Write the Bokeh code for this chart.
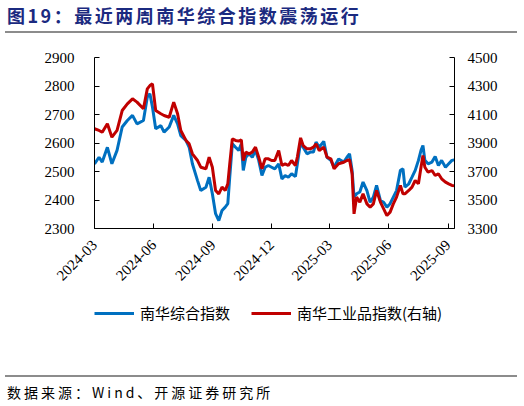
import pandas as pd
from bokeh.plotting import figure
from bokeh.layouts import column
from bokeh.models import Range1d, LinearAxis, FixedTicker, Legend, LegendItem, Div
from bokeh.embed import file_html
from bokeh.resources import INLINE

title_text = "图19：最近两周南华综合指数震荡运行"
source_text = "数据来源：Wind、开源证券研究所"
series_names = ["南华综合指数", "南华工业品指数(右轴)"]

dates = ["2024-03-01","2024-03-08","2024-03-13","2024-03-21","2024-03-28","2024-04-05",
         "2024-04-13","2024-04-21","2024-04-29","2024-05-06","2024-05-16","2024-05-22",
         "2024-05-26","2024-05-30","2024-06-04","2024-06-12","2024-06-17","2024-06-25",
         "2024-07-02","2024-07-08","2024-07-13","2024-07-21","2024-07-26","2024-07-31",
         "2024-08-08","2024-08-13","2024-08-21","2024-08-26","2024-08-31","2024-09-05",
         "2024-09-10","2024-09-15","2024-09-20","2024-09-24","2024-09-27","2024-10-01",
         "2024-10-06","2024-10-11","2024-10-15","2024-10-18","2024-10-22","2024-10-27",
         "2024-11-01","2024-11-06","2024-11-11","2024-11-16","2024-11-21","2024-11-26",
         "2024-12-01","2024-12-06","2024-12-12","2024-12-17","2024-12-22","2024-12-27",
         "2025-01-01","2025-01-07","2025-01-10","2025-01-15","2025-01-19","2025-01-25",
         "2025-01-30","2025-02-04","2025-02-08","2025-02-13","2025-02-20","2025-02-25",
         "2025-03-03","2025-03-08","2025-03-15","2025-03-23","2025-03-28","2025-04-01",
         "2025-04-05","2025-04-08","2025-04-12","2025-04-17","2025-04-22","2025-04-28",
         "2025-05-03","2025-05-08","2025-05-13","2025-05-19","2025-05-24","2025-05-29",
         "2025-06-03","2025-06-08","2025-06-13","2025-06-19","2025-06-23","2025-06-26",
         "2025-07-02","2025-07-07","2025-07-12","2025-07-17","2025-07-21","2025-07-24",
         "2025-07-27","2025-08-01","2025-08-07","2025-08-12","2025-08-17","2025-08-22",
         "2025-08-28","2025-09-02","2025-09-07","2025-09-12"]

nanhua_composite = [2527,2550,2533,2585,2527,2574,
                    2656,2679,2697,2667,2679,2761,
                    2773,2726,2650,2661,2638,2656,
                    2697,2667,2626,2609,2585,2527,
                    2468,2433,2445,2480,2422,2352,
                    2328,2363,2375,2387,2480,2597,
                    2585,2574,2597,2504,2550,2562,
                    2550,2574,2539,2486,2515,2521,
                    2515,2509,2527,2474,2486,2480,
                    2492,2482,2527,2603,2585,2562,
                    2568,2568,2603,2585,2606,2550,
                    2539,2515,2544,2533,2550,2562,
                    2504,2410,2422,2428,2463,2433,
                    2392,2410,2451,2398,2392,2375,
                    2387,2410,2433,2504,2509,2445,
                    2457,2480,2504,2539,2574,2591,
                    2539,2527,2533,2553,2521,2539,
                    2515,2527,2539,2541]

nanhua_industrial = [4000,3988,3976,4035,3941,3988,
                     4128,4175,4210,4187,4140,4280,
                     4303,4315,4128,4105,4093,4081,
                     4187,4105,3988,3918,3894,3824,
                     3777,3730,3719,3800,3730,3567,
                     3543,3590,3567,3613,3754,3929,
                     3918,3913,3922,3777,3836,3824,
                     3836,3871,3801,3719,3789,3789,
                     3777,3777,3847,3742,3754,3742,
                     3777,3742,3801,3936,3882,3859,
                     3859,3871,3894,3847,3871,3801,
                     3789,3719,3754,3765,3777,3782,
                     3684,3403,3520,3485,3543,3473,
                     3450,3473,3567,3485,3438,3391,
                     3415,3473,3520,3602,3543,3543,
                     3567,3590,3637,3614,3730,3812,
                     3730,3695,3707,3672,3684,3649,
                     3625,3613,3602,3600]

x_tick_labels = ["2024-03","2024-06","2024-09","2024-12","2025-03","2025-06","2025-09"]
left_ticks = [2300, 2400, 2500, 2600, 2700, 2800, 2900]
right_ticks = [3300, 3500, 3700, 3900, 4100, 4300, 4500]

BLUE = "#0070C0"
RED = "#C00000"
SERIF = "Liberation Serif"
CJK = "Noto Sans CJK SC"
GRAY = "#8C8C8C"

x = pd.to_datetime(dates)

W = 524
TOP_H, FIG_H, LEG_H, BOT_H = 40, 258, 72, 36

# ---- main chart ----
p = figure(width=W, height=FIG_H, x_axis_type="datetime",
           x_range=Range1d(pd.Timestamp("2024-03-01"), pd.Timestamp("2025-09-11")),
           y_range=Range1d(left_ticks[0], left_ticks[-1]),
           output_backend="svg", toolbar_location=None,
           min_border_left=94, min_border_right=70,
           min_border_top=17, min_border_bottom=70)
p.extra_y_ranges = {"right": Range1d(right_ticks[0], right_ticks[-1])}
p.outline_line_color = None
p.xgrid.grid_line_color = None
p.ygrid.grid_line_color = None
p.background_fill_color = "white"
p.border_fill_color = "white"

p.line(x, nanhua_composite, line_color=BLUE, line_width=3)
p.line(x, nanhua_industrial, line_color=RED, line_width=3, y_range_name="right")

tick_ms = [int(pd.Timestamp(t + "-01").value // 10**6) for t in x_tick_labels]
xa = p.xaxis[0]
xa.ticker = FixedTicker(ticks=tick_ms)
xa.major_label_overrides = {ms: lab for ms, lab in zip(tick_ms, x_tick_labels)}
xa.major_label_orientation = 0.785398
xa.major_label_standoff = 14

ya = p.yaxis[0]
ya.ticker = FixedTicker(ticks=left_ticks)
ya.major_label_standoff = 20

ra = LinearAxis(y_range_name="right", ticker=FixedTicker(ticks=right_ticks))
ra.major_label_standoff = 13
p.add_layout(ra, "right")

for ax in [xa, ya, ra]:
    ax.axis_line_color = "black"
    ax.axis_line_width = 1
    ax.major_tick_line_color = "black"
    ax.major_tick_in = 5
    ax.major_tick_out = 0
    ax.minor_tick_line_color = None
    ax.major_label_text_font = SERIF
    ax.major_label_text_font_size = "15px"
    ax.major_label_text_color = "black"

# ---- legend strip (its frame is aligned with the chart frame by the column) ----
lf = figure(width=W, height=LEG_H, x_range=Range1d(0, 1), y_range=Range1d(0, 1),
            x_axis_location=None, y_axis_location=None,
            output_backend="svg", toolbar_location=None,
            min_border=0, min_border_left=0, min_border_right=0,
            min_border_top=0, min_border_bottom=0)
lf.outline_line_color = None
lf.xgrid.grid_line_color = None
lf.ygrid.grid_line_color = None
lf.border_fill_color = "white"
lr1 = lf.line([-10, -9], [-10, -10], line_color=BLUE, line_width=3)
lr2 = lf.line([-10, -9], [-10, -10], line_color=RED, line_width=3)
legend = Legend(items=[LegendItem(label=series_names[0], renderers=[lr1]),
                       LegendItem(label=series_names[1], renderers=[lr2])],
                orientation="horizontal", location=(0, 47),
                glyph_width=40, glyph_height=14, label_standoff=6, spacing=21,
                padding=0, margin=0, border_line_color=None,
                background_fill_alpha=0,
                label_text_font=CJK, label_text_font_size="15px",
                label_text_color="black")
lf.add_layout(legend)

top_html = (
    f'<div style="position:relative;width:{W}px;height:{TOP_H}px;">'
    f'<div style="position:absolute;left:7px;top:3px;white-space:nowrap;'
    f'font-family:\'{CJK}\';font-size:18px;font-weight:bold;letter-spacing:2.5px;'
    f'color:#1B2A80;line-height:24px;">{title_text}</div>'
    f'<div style="position:absolute;left:5px;top:31px;width:512px;height:2px;'
    f'background:{GRAY};"></div></div>'
)
bot_html = (
    f'<div style="position:relative;width:{W}px;height:{BOT_H}px;">'
    f'<div style="position:absolute;left:5px;top:5px;width:512px;height:2px;'
    f'background:{GRAY};"></div>'
    f'<div style="position:absolute;left:7px;top:12px;white-space:nowrap;'
    f'font-family:\'{CJK}\';font-size:14px;letter-spacing:3px;color:black;'
    f'line-height:20px;">{source_text}</div></div>'
)
div_top = Div(text=top_html, width=W, height=TOP_H, margin=0)
div_bot = Div(text=bot_html, width=W, height=BOT_H, margin=0)

layout = column(div_top, p, lf, div_bot, spacing=0, margin=0)

open("out.html", "w").write(file_html(layout, INLINE))
